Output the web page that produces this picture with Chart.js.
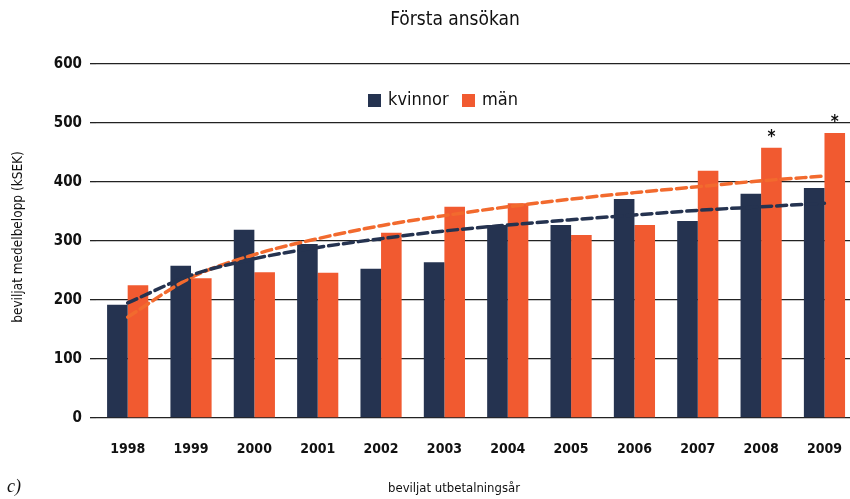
<!DOCTYPE html>
<html>
<head>
<meta charset="utf-8">
<script src="https://cdn.jsdelivr.net/npm/chart.js@4"></script>
<style>
  html, body { margin: 0; padding: 0; background: #fff; overflow: hidden; }
  #wrap { width: 850px; height: 499px; overflow: hidden; }
</style>
</head>
<body>
<div id="wrap"><canvas id="chart" width="857" height="499"></canvas></div>
<script>
// data (kSEK)
const years = ['1998', '1999', '2000', '2001', '2002', '2003', '2004', '2005', '2006', '2007', '2008', '2009'];
const kvinnor = [192, 258, 319, 295, 253, 264, 327, 327, 371, 334, 380, 390];
const man = [225, 237, 247, 246, 314, 358, 364, 310, 327, 419, 458, 483];
// trendlines
const trendKvinnor = [195, 242, 270, 289, 304, 317, 327, 336, 344, 352, 358, 364];
const trendMan = [171, 238, 277, 304, 326, 343, 358, 371, 382, 392, 402, 410];
const yTicks = [0, 100, 200, 300, 400, 500, 600];
const stars = ['', '', '', '', '', '', '', '', '', '', '*', '*'];

const MORK = '#253350';
const ORANGE = '#F15A30';
const FONT = '"Liberation Sans Narrow", "DejaVu Sans Condensed", sans-serif';

const extras = {
    id: 'extras',
    afterDatasetsDraw(chart) {
        const c = chart.ctx;
        c.save();
        c.fillStyle = '#111';

        // asterisks over män bars
        const meta = chart.getDatasetMeta(1);
        c.font = 'bold 17px ' + FONT;
        c.textAlign = 'center';
        c.textBaseline = 'bottom';
        stars.forEach((s, i) => {
            if (!s) return;
            const bar = meta.data[i];
            c.fillText(s, bar.x, bar.y - 2);
        });
        c.restore();
    },
    afterDraw(chart) {
        const c = chart.ctx;
        c.save();
        c.fillStyle = '#111';
        c.textBaseline = 'middle';

        // title
        c.font = '19px ' + FONT;
        c.textAlign = 'center';
        c.fillText('Första ansökan', 455, 20);

        // legend
        c.font = '18px ' + FONT;
        c.textAlign = 'left';
        const items = [
            { label: chart.data.datasets[0].label, color: MORK, x: 368 },
            { label: chart.data.datasets[1].label, color: ORANGE, x: 462 }
        ];
        items.forEach(it => {
            c.fillStyle = it.color;
            c.fillRect(it.x, 94, 13, 13);
            c.fillStyle = '#111';
            c.fillText(it.label, it.x + 20, 100);
        });

        // axis titles
        c.font = '13px ' + FONT;
        c.textAlign = 'center';
        c.fillText('beviljat utbetalningsår', 454, 489);
        c.font = '13.5px ' + FONT;
        c.save();
        c.translate(18, 237);
        c.rotate(-Math.PI / 2);
        c.fillText('beviljat medelbelopp (kSEK)', 0, 0);
        c.restore();

        c.font = 'italic 18px "Liberation Serif", "DejaVu Serif", serif';
        c.textAlign = 'left';
        c.fillText('c)', 7, 487);
        c.restore();
    }
};

new Chart(document.getElementById('chart'), {
    type: 'bar',
    data: {
        labels: years,
        datasets: [
            {
                label: 'kvinnor',
                data: kvinnor,
                backgroundColor: MORK,
                categoryPercentage: 0.65,
                barPercentage: 1.0,
                order: 2
            },
            {
                label: 'män',
                data: man,
                backgroundColor: ORANGE,
                categoryPercentage: 0.65,
                barPercentage: 1.0,
                order: 2
            },
            {
                type: 'line',
                label: 'trend kvinnor',
                data: trendKvinnor,
                borderColor: MORK,
                borderWidth: 3.5,
                borderDash: [10, 5],
                borderCapStyle: 'round',
                pointRadius: 0,
                cubicInterpolationMode: 'monotone',
                fill: false,
                order: 0
            },
            {
                type: 'line',
                label: 'trend män',
                data: trendMan,
                borderColor: '#F26A2E',
                borderWidth: 3.5,
                borderDash: [10, 5],
                borderCapStyle: 'round',
                pointRadius: 0,
                cubicInterpolationMode: 'monotone',
                fill: false,
                order: 0
            }
        ]
    },
    options: {
        responsive: false,
        animation: false,
        layout: { padding: { top: 64, right: 0, bottom: 0, left: 0 } },
        plugins: {
            legend: { display: false },
            title: { display: false },
            tooltip: { enabled: false }
        },
        scales: {
            x: {
                grid: { display: false },
                border: { display: false },
                ticks: {
                    color: '#111',
                    font: { family: FONT, size: 14, weight: 'bold' },
                    padding: 15
                },
                afterFit(scale) { scale.height = 81; }
            },
            y: {
                min: 0,
                max: 600,
                afterBuildTicks(scale) { scale.ticks = yTicks.map(v => ({ value: v })); },
                grid: {
                    color: '#222',
                    lineWidth: 1.3,
                    drawTicks: true,
                    tickLength: 6
                },
                border: { display: false },
                ticks: {
                    color: '#111',
                    font: { family: FONT, size: 15, weight: 'bold' },
                    padding: 8
                },
                afterFit(scale) { scale.width = 96; }
            }
        }
    },
    plugins: [extras]
});
</script>
</body>
</html>
